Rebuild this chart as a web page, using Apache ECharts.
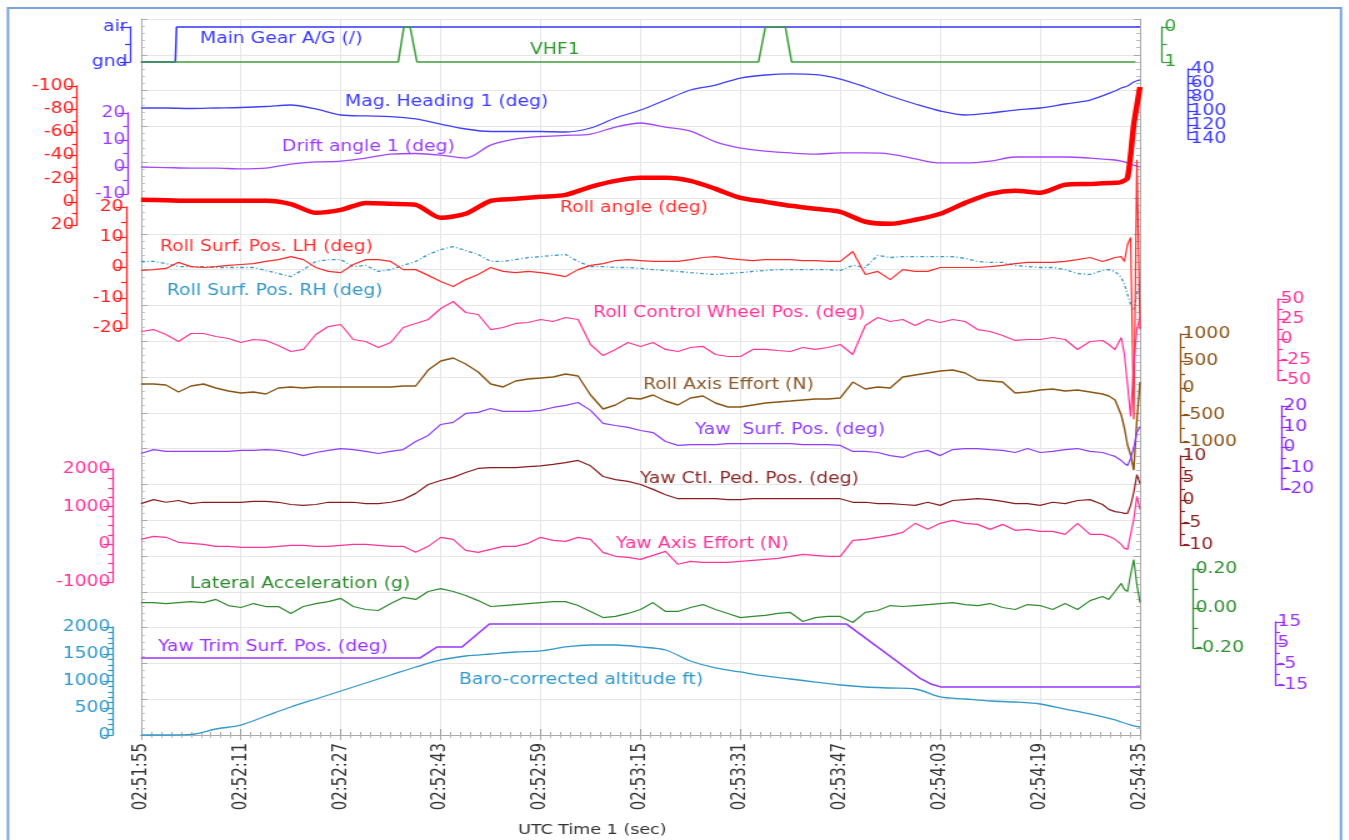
<!DOCTYPE html>
<html>
<head>
<meta charset="utf-8">
<script src="https://cdn.jsdelivr.net/npm/echarts@6/dist/echarts.min.js"></script>
<style>
  html, body { margin: 0; padding: 0; background: #fff; overflow: hidden; }
  /* the reference is stretched horizontally, so the chart is drawn narrow and widened */
  #chart { width: 1080px; height: 840px; transform: scaleX(1.25); transform-origin: 0 0; }
</style>
</head>
<body>
<div id="chart"></div>
<script>
// ---- data ----
const startTime = 2 * 3600 + 51 * 60 + 55; // 02:51:55
const gearTicks = ['gnd', 'air'];

const tCoarse = [0,4,8,12,16,20,24,28,32,36,40,44,48,52,56,60,64,68,72,76,80,84,88,92,96,100,104,108,112,116,120,124,128,132,136,140,144,148,152,156,157,158,159,160];
const tFine = [0,2,4,6,8,10,12,14,16,18,20,22,24,26,28,30,32,34,36,38,40,42,44,46,48,50,52,54,56,58,60,62,64,66,68,70,72,74,76,78,80,82,84,86,88,90,92,94,96,98,100,102,104,106,108,110,112,114,116,118,120,122,124,126,128,130,132,134,136,138,140,142,144,146,148,150,152,154,155,156,157,157.5,158,158.5,159,159.5,160];

// step signals as [time, value]
const mainGear = [[0,0],[5.5,0],[5.7,1],[160,1]];
const vhf1 = [[0,1],[41.2,1],[42.1,0],[43.1,0],[44.2,1],[98.9,1],[100,0],[103.2,0],[104.2,1],[159.3,1]];
const yawTrim = [[0,-2.1],[44.7,-2.1],[47.4,3.1],[51.4,3.1],[55.8,14],[113,14],[124.7,-11.7],[126.5,-14.5],[128.2,-16],[160,-16]];

// coarse series
const magHeading = [95.7,95.7,96.4,95.7,95,93.6,91.4,97.1,105.7,107.1,107.9,111.4,118.6,125.7,129.3,129.3,129.3,130,124.3,110,98.6,84.3,70,62.9,52.9,48.6,47.1,47.9,54.3,65.7,78.6,90,100,105.7,102.9,98.6,95.7,90,84.3,71.4,67.1,64.3,58.6,55.7];
const driftAngle = [0,-0.2,-0.4,-0.4,-0.7,-0.4,1.1,1.9,2.2,3.3,4.8,5.0,4.4,3.3,8.1,10.4,11.3,11.7,12.2,14.8,16.3,14.8,13.3,9.3,7.0,5.9,5.2,4.8,5.2,5.2,4.8,3.0,1.5,1.5,2.2,3.7,3.7,3.7,3.3,2.6,2.2,1.5,0.7,0];
const rollAngle = [-1.7,-1.3,-0.9,-0.9,-0.9,-0.9,2.0,9.5,7.0,0.9,1.7,2.6,13.8,10.3,-0.9,-2.6,-4.3,-6.0,-12.9,-18.1,-20.7,-20.7,-18.1,-11.2,-3.4,0,3.4,6.0,8.6,17.2,19,15.5,10.3,0.9,-6.9,-9.5,-7.8,-14.7,-15.5,-16.4,-17.2,-20.7,-66.4,-99.1];
const altitude = [0,0,10,111,185,352,519,667,815,963,1111,1259,1389,1463,1500,1537,1556,1630,1667,1667,1630,1574,1370,1241,1167,1093,1037,981,926,889,870,852,704,667,630,611,574,481,389,278,241,204,167,148];

// fine series
const rollSurfLH = [-1.0,-0.7,-0.3,1.7,0.3,0,0.3,0.7,1.0,1.3,2.0,2.6,3.6,2.6,0,-1.3,-1.7,1.0,2.6,2.6,2.0,-0.7,-0.7,-2.6,-4.6,-6.3,-4.0,-2.3,0,-1.3,-1.7,-1.3,-1.7,-2.3,-3.0,-0.7,0.7,1.3,2.3,2.6,2.3,2.0,2.0,2.0,2.6,3.3,3.6,3.0,2.6,2.3,2.6,2.6,2.6,2.3,2.3,2.0,2.0,5.3,-2.3,-1.3,-4.0,-0.7,-1.3,-1.3,0,0,0,0,0.3,0.7,1.3,1.7,1.7,1.7,2.0,2.6,3.3,2.0,2.6,3.3,3.6,2.0,7.6,9.9,-50.2,35.6,-20.5];
const rollSurfRH = [2.0,2.0,1.3,0.3,0.3,0.3,0,0,0,0,-1.0,-2.0,-3.0,-0.7,2.0,2.6,2.6,0.3,0.7,-1.3,-0.7,0.7,2.0,4.3,5.9,6.9,5.6,4.3,2.0,2.0,2.6,3.3,3.6,4.0,4.3,2.0,0.3,0.3,0,0,-0.3,-0.7,-1.0,-1.3,-1.7,-2.0,-2.3,-2.0,-1.7,-1.3,-1.0,-0.7,-0.7,-0.7,-0.7,-0.7,-1.0,0.7,0,4.0,3.3,3.6,3.6,3.6,3.6,3.6,3.0,2.0,1.7,1.7,0.7,0.3,0,0,-0.7,-2.0,-2.3,-1.0,-0.7,-1.3,-3.3,-5.6,-8.9,-12.2,-13.9,-8.9,-4.6];
const rollWheel = [9.9,12.3,6.2,-2.5,7.4,7.4,3.7,1.2,-3.7,0,-1.2,-7.4,-14.8,-12.3,6.2,16,18.5,0,-2.5,-9.9,-3.7,14.8,19.8,24.7,38.3,46.9,33.3,30.9,12.3,14.8,19.8,21,24.7,22.2,27.2,24.7,-6.2,-19.8,-12.3,-3.7,-8.6,-3.7,-12.3,-14.8,-9.9,-8.6,-18.5,-21,-21,-12.3,-12.3,-13.6,-14.8,-9.9,-12.3,-9.9,-6.2,-18.5,17.3,27.2,22.2,24.7,17.3,24.7,21,24.7,22.2,12.3,9.9,4.9,-1.2,0,0,2.5,0,-12.3,-2.5,-1.2,-6.2,-12.3,2.5,-18.5,-55.6,-95.1,-30.9,12.3,28.4];
const rollEffort = [74,74,56,-74,37,74,0,-56,-93,-74,-111,0,19,0,19,19,19,19,19,19,19,37,37,333,500,556,444,296,74,19,130,167,185,204,259,222,-130,-389,-315,-185,-204,-130,-241,-315,-185,-148,-278,-352,-352,-315,-278,-259,-241,-222,-204,-204,-185,111,-19,19,0,204,241,278,315,333,278,148,130,111,-93,-74,-37,-19,-56,-37,-74,-111,-148,-222,-500,-741,-1056,-1241,-1519,-593,111];
const yawSurf = [-2.9,-1.0,-1.9,-1.9,-1.9,-1.9,-1.9,-1.9,-1.4,-1.4,-1.0,-1.4,-2.4,-3.9,-2.4,-1.4,-0.5,-1.0,-1.9,-2.9,-1.9,-1.0,2.9,5.8,11.1,12.1,16.4,16.9,18.8,17.4,17.4,17.4,17.9,19.3,20.3,21.7,17.9,11.6,10.6,9.7,8.2,7.2,2.9,1.0,1.4,1.4,1.4,1.9,1.9,1.9,1.9,1.9,1.9,1.4,1.4,1.4,1.0,-1.9,-1.9,-2.4,-3.9,-4.8,-2.4,-1.4,-3.9,-1.0,-0.5,-0.5,-1.0,-1.4,-2.4,-0.5,-2.4,-1.9,-1.0,-0.5,-1.9,-2.4,-3.4,-4.3,-6.3,-7.7,-8.7,-5.3,0,7.2,10.1];
const yawPedal = [-0.7,0.2,-0.4,0,-0.7,-0.4,-0.4,-0.4,-0.4,-0.2,-0.2,-0.4,-0.9,-1.1,-0.9,-0.4,-0.4,-0.4,-0.7,-0.7,-0.4,0.2,1.6,3.6,4.5,5.2,6.3,7.2,7.4,7.4,7.4,7.6,7.8,8.1,8.5,9.0,7.8,5.4,4.7,4.3,3.6,2.5,1.3,0.4,0.4,0.4,0.4,0.2,0.2,0.4,0.4,0.4,0.4,0.4,0.4,0.4,0.4,-0.4,-0.4,-0.7,-0.7,-0.9,-1.1,-0.4,-1.1,0,0.2,0.4,0.2,-0.2,-0.7,-0.7,-1.1,-0.4,-0.7,0,0.2,-0.9,-2.0,-2.5,-2.7,-2.9,-2.9,-1.1,1.8,5.8,3.8];
const yawEffort = [133,212,186,53,27,0,-53,-53,-80,-80,-80,-53,-27,-27,-53,-53,-27,0,0,-27,-53,-53,-212,-53,186,133,-159,-212,-133,-53,-53,27,186,106,80,186,133,-212,-318,-345,-398,-292,-186,-530,-451,-477,-477,-477,-451,-424,-398,-371,-318,-265,-292,-318,-318,106,133,186,239,318,557,398,557,636,557,530,398,530,371,398,345,345,265,557,265,265,212,133,0,-106,-133,265,663,1272,928];
const latAccel = [0.030,0.030,0.025,0.030,0.035,0.030,0.046,0.015,0.005,0.025,0.010,0.010,-0.025,0.010,0.025,0.035,0.051,0.010,-0.005,-0.010,0.025,0.056,0.046,0.086,0.101,0.086,0.066,0.040,0.010,0.015,0.020,0.025,0.030,0.035,0.035,0.015,-0.015,-0.046,-0.040,-0.025,-0.005,0.030,-0.015,-0.015,0.005,0.020,-0.005,-0.025,-0.046,-0.040,-0.035,-0.025,-0.020,-0.066,-0.046,-0.040,-0.040,-0.071,-0.020,-0.010,0.015,0.010,0.015,0.020,0.025,0.030,0.020,0.015,0.025,0.005,-0.005,0.020,0.015,-0.005,0.025,-0.005,0.040,0.061,0.046,0.086,0.127,0.096,0.086,0.172,0.248,0.121,0.030];

// sanity check on lengths
[magHeading, driftAngle, rollAngle, altitude].forEach((a, i) => {
  if (a.length !== tCoarse.length) throw new Error('coarse series ' + i + ' has ' + a.length);
});
[rollSurfLH, rollSurfRH, rollWheel, rollEffort, yawSurf, yawPedal, yawEffort, latAccel].forEach((a, i) => {
  if (a.length !== tFine.length) throw new Error('fine series ' + i + ' has ' + a.length);
});

// ---- layout (reference pixels, chart is widened by S) ----
const S = 1.25;
const W = 1080;
const plotL = 141, plotR = 1140, plotT = 19, plotB = 735;
const gx = x => x / S;
const FONT = 'DejaVu Sans';

function pad(n) { return (n < 10 ? '0' : '') + n; }
function hms(t) {
  const s = startTime + Math.round(t);
  return pad(Math.floor(s / 3600)) + ':' + pad(Math.floor(s % 3600 / 60)) + ':' + pad(s % 60);
}
const pairs = (ts, vs) => ts.map((t, i) => [t, vs[i]]);
const plain = v => String(Math.round(v * 1000) / 1000);

const grid = [], xAxis = [], yAxis = [], series = [];

// main plot box
grid.push({ left: gx(plotL), right: W - gx(plotR), top: plotT, bottom: 840 - plotB });
const boxLine = { color: '#a9a9a9', width: 1 };
xAxis.push({
  gridIndex: 0, type: 'value', min: 0, max: 160, interval: 16, position: 'bottom',
  axisLine: { lineStyle: boxLine },
  axisTick: { inside: true, length: 6, lineStyle: { color: '#999' } },
  minorTick: { show: true, splitNumber: 10, length: 3, lineStyle: { color: '#aaa' } },
  axisLabel: { rotate: 90, margin: 8, fontSize: 15, fontFamily: FONT, color: '#333',
    showMinLabel: true, showMaxLabel: true, hideOverlap: false, formatter: hms },
  splitLine: { show: true, lineStyle: { color: '#e6e6e6' } }
});
xAxis.push({
  gridIndex: 0, type: 'value', min: 0, max: 160, interval: 16, position: 'top',
  axisLine: { lineStyle: boxLine },
  axisTick: { inside: true, length: 5, lineStyle: { color: '#aaa' } },
  minorTick: { show: true, splitNumber: 10, length: 3, lineStyle: { color: '#bbb' } },
  axisLabel: { show: false }, splitLine: { show: false }
});
['left', 'right'].forEach(pos => {
  yAxis.push({
    gridIndex: 0, type: 'value', min: 0, max: 20, interval: 1, position: pos,
    axisLine: { show: true, onZero: false, lineStyle: boxLine },
    axisTick: { inside: true, length: 5, lineStyle: { color: '#aaa' } },
    minorTick: { show: true, splitNumber: 5, length: 3, lineStyle: { color: '#bbb' } },
    axisLabel: { show: false },
    splitLine: { show: pos === 'left', lineStyle: { color: '#e6e6e6' } }
  });
});

// one small grid per scale
const panels = {
  gear:    { top: 27,  bottom: 62,  side: 'left',  ax: 130,  min: 0, max: 1, interval: 1, split: 2, color: '#3636ff', fmt: v => gearTicks[v] },
  vhf:     { top: 27,  bottom: 62,  side: 'right', ax: 1162, min: 0, max: 1, interval: 1, split: 2, color: '#3a9e3a', inverse: true },
  heading: { top: 69,  bottom: 139, side: 'right', ax: 1188, min: 40, max: 140, interval: 20, split: 2, color: '#3b3bff', inverse: true, dense: true },
  roll:    { top: 86,  bottom: 225, side: 'left',  ax: 77,   min: -100, max: 20, interval: 20, split: 2, color: '#ff2020', inverse: true },
  drift:   { top: 113, bottom: 194, side: 'left',  ax: 128,  min: -10, max: 20, interval: 10, split: 2, color: '#9b3bff' },
  surf:    { top: 207, bottom: 328, side: 'left',  ax: 126,  min: -20, max: 20, interval: 10, split: 2, color: '#ff2020' },
  wheel:   { top: 299, bottom: 380, side: 'right', ax: 1278, min: -50, max: 50, interval: 25, split: 2, color: '#ff3399' },
  effort:  { top: 334, bottom: 442, side: 'right', ax: 1180, min: -1000, max: 1000, interval: 500, split: 2, color: '#8b5518' },
  yawSurf: { top: 406, bottom: 489, side: 'right', ax: 1281, min: -20, max: 20, interval: 10, split: 2, color: '#8c2cff' },
  pedal:   { top: 456, bottom: 545, side: 'right', ax: 1180, min: -10, max: 10, interval: 5, split: 2, color: '#8b1f1f' },
  yawEff:  { top: 469, bottom: 582, side: 'left',  ax: 113,  min: -1000, max: 2000, interval: 1000, split: 4, color: '#ff3399' },
  lat:     { top: 569, bottom: 648, side: 'right', ax: 1193, min: -0.2, max: 0.2, interval: 0.2, split: 2, color: '#2f8f2f',
             fmt: v => Math.abs(v) < 1e-9 ? '0.00' : v.toFixed(2) },
  trim:    { top: 622, bottom: 685, side: 'right', ax: 1275, min: -15, max: 15, interval: 10, split: 2, color: '#9933ff' },
  alt:     { top: 627, bottom: 735, side: 'left',  ax: 113,  min: 0, max: 2000, interval: 500, split: 5, color: '#3399cc' }
};

function scaleAxis(p, gi, fmt, withLine) {
  return {
    gridIndex: gi, type: 'value', position: p.side,
    offset: p.side === 'left' ? gx(plotL) - gx(p.ax) : gx(p.ax) - gx(plotR),
    min: p.min, max: p.max, interval: p.interval, inverse: !!p.inverse,
    axisLine: { show: withLine, onZero: false, lineStyle: { color: p.color, width: 1.3 } },
    axisTick: { show: withLine, length: 8, lineStyle: { color: p.color, width: 1.2 } },
    minorTick: { show: withLine, splitNumber: p.split, length: 4, lineStyle: { color: p.color, width: 1.2 } },
    axisLabel: { color: p.color, fontSize: 15, fontFamily: FONT, margin: 2,
      showMinLabel: true, showMaxLabel: true, hideOverlap: false, formatter: fmt },
    splitLine: { show: false }
  };
}

const panelIndex = {};
Object.keys(panels).forEach(key => {
  const p = panels[key];
  const gi = grid.length;
  const fmt = p.fmt || plain;
  panelIndex[key] = gi;
  grid.push({ left: gx(plotL), right: W - gx(plotR), top: p.top, height: p.bottom - p.top });
  xAxis.push({ gridIndex: gi, type: 'value', min: 0, max: 160, show: false });
  if (p.dense) {
    // labels too close for one axis: every other label goes on an overlaid twin axis
    const step = 2 * p.interval;
    yAxis.push(scaleAxis(p, gi, v => ((v - p.min) % step === 0 ? fmt(v) : ''), true));
  } else {
    yAxis.push(scaleAxis(p, gi, fmt, true));
  }
});
// twin axes appended after the panel axes so series indices stay aligned
const twinFor = {};
Object.keys(panels).forEach(key => {
  const p = panels[key];
  if (!p.dense) return;
  const step = 2 * p.interval;
  twinFor[key] = yAxis.length;
  yAxis.push(scaleAxis(p, panelIndex[key], v => ((v - p.min) % step !== 0 ? plain(v) : ''), false));
});

function addLine(name, key, data, color, width, extra) {
  const gi = panelIndex[key];
  series.push(Object.assign({
    name, type: 'line', xAxisIndex: gi + 1, yAxisIndex: gi + 1, data,
    showSymbol: false, clip: false, animation: false, silent: true,
    lineStyle: { color, width }
  }, extra || {}));
}

addLine('Main Gear A/G (/)', 'gear', mainGear, '#3333ff', 1.5);
addLine('VHF1', 'vhf', vhf1, '#3a9e3a', 1.5);
addLine('Mag. Heading 1 (deg)', 'heading', pairs(tCoarse, magHeading), '#4040ff', 1.3, { smooth: 0.3 });
addLine('Drift angle 1 (deg)', 'drift', pairs(tCoarse, driftAngle), '#a347ff', 1.3, { smooth: 0.3 });
addLine('Roll Surf. Pos. RH (deg)', 'surf', pairs(tFine, rollSurfRH), '#3399cc', 1.3, { lineStyle: { color: '#3399cc', width: 1.3, type: [3, 2, 1, 2] } });
addLine('Roll Surf. Pos. LH (deg)', 'surf', pairs(tFine, rollSurfLH), '#ff2a2a', 1.2);
addLine('Roll Control Wheel Pos. (deg)', 'wheel', pairs(tFine, rollWheel), '#ff3399', 1.2);
addLine('Roll Axis Effort (N)', 'effort', pairs(tFine, rollEffort), '#8b5513', 1.4);
addLine('Yaw  Surf. Pos. (deg)', 'yawSurf', pairs(tFine, yawSurf), '#8f3bff', 1.2);
addLine('Yaw Ctl. Ped. Pos. (deg)', 'pedal', pairs(tFine, yawPedal), '#8b1c1c', 1.2);
addLine('Yaw Axis Effort (N)', 'yawEff', pairs(tFine, yawEffort), '#ff3399', 1.2);
addLine('Lateral Acceleration (g)', 'lat', pairs(tFine, latAccel), '#2e8b2e', 1.2);
addLine('Yaw Trim Surf. Pos. (deg)', 'trim', yawTrim, '#9933ff', 1.5);
addLine('Baro-corrected altitude ft)', 'alt', pairs(tCoarse, altitude), '#3399cc', 1.3, { smooth: 0.3 });
addLine('Roll angle (deg)', 'roll', pairs(tCoarse, rollAngle), '#ff0000', 4.5, { smooth: 0.25 });

// trace names written inside the plot
const names = [
  ['Main Gear A/G (/)', 200, 39, '#3a3aff'],
  ['VHF1', 530, 50, '#2e9a2e'],
  ['Mag. Heading 1 (deg)', 345, 102, '#3a3aff'],
  ['Drift angle 1 (deg)', 282, 147, '#9b3bff'],
  ['Roll angle (deg)', 560, 208, '#ff3030'],
  ['Roll Surf. Pos. LH (deg)', 160, 247, '#ff3030'],
  ['Roll Surf. Pos. RH (deg)', 167, 291, '#3399cc'],
  ['Roll Control Wheel Pos. (deg)', 593, 313, '#ff3399'],
  ['Roll Axis Effort (N)', 643, 385, '#8b5a2b'],
  ['Yaw  Surf. Pos. (deg)', 695, 430, '#8f3bff'],
  ['Yaw Ctl. Ped. Pos. (deg)', 640, 479, '#8b2a2a'],
  ['Yaw Axis Effort (N)', 616, 544, '#ff3399'],
  ['Lateral Acceleration (g)', 190, 584, '#2e8b2e'],
  ['Yaw Trim Surf. Pos. (deg)', 158, 647, '#9933ff'],
  ['Baro-corrected altitude ft)', 459, 680, '#3399cc']
];
const graphic = names.map(([text, x, y, color]) => ({
  type: 'text', x: gx(x), y: y, z: 50,
  style: { text, fill: color, font: '15px "' + FONT + '"', verticalAlign: 'middle', textVerticalAlign: 'middle' }
}));
graphic.push({
  type: 'text', x: gx(518), y: 830, z: 50,
  style: { text: 'UTC Time 1 (sec)', fill: '#333', font: '14px "' + FONT + '"', verticalAlign: 'middle', textVerticalAlign: 'middle' }
});
graphic.push({
  type: 'rect', z: 0, silent: true,
  shape: { x: gx(8), y: 8, width: gx(1341) - gx(8), height: 900 },
  style: { fill: 'none', stroke: '#7ba4d8', lineWidth: 2 }
});

const chart = echarts.init(document.getElementById('chart'));
chart.setOption({
  backgroundColor: '#fff',
  animation: false,
  grid, xAxis, yAxis, series, graphic
});
</script>
</body>
</html>
